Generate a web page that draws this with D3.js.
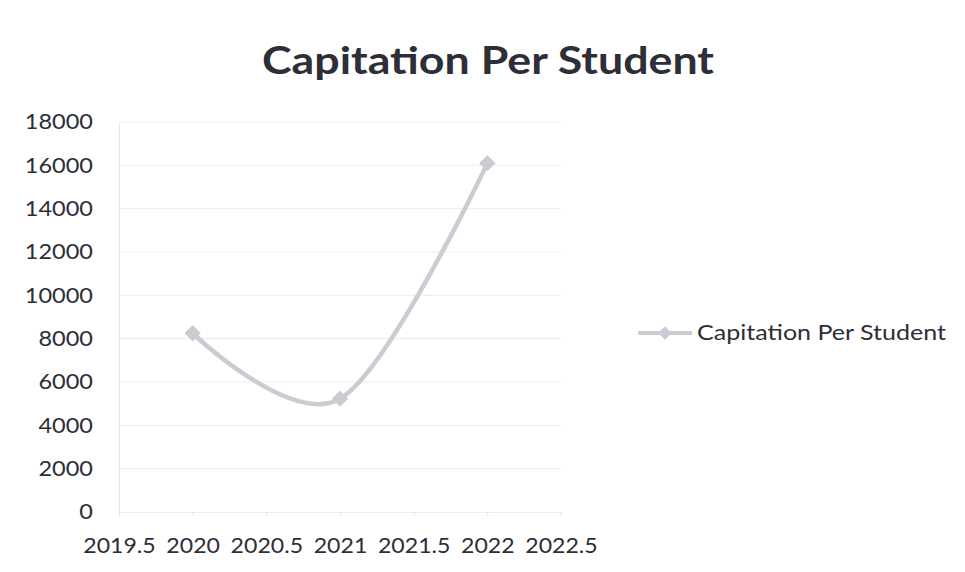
<!DOCTYPE html>
<html>
<head>
<meta charset="utf-8">
<script src="https://cdn.jsdelivr.net/npm/d3@7"></script>
<style>
  body { margin: 0; background: #fff; }
  text { font-family: Lato, "Open Sans", sans-serif; fill: #2e2e38; }
</style>
</head>
<body>
<div id="chart"></div>
<script>
var years = [2020, 2021, 2022];
var capitation = [8250, 5230, 16100];
var xTicks = [2019.5, 2020, 2020.5, 2021, 2021.5, 2022, 2022.5];
var yTicks = [0, 2000, 4000, 6000, 8000, 10000, 12000, 14000, 16000, 18000];
var seriesName = "Capitation Per Student";

var width = 965, height = 572;
var margin = { top: 122, right: 404, bottom: 60, left: 119 };

// the scanned chart is a bit wider than normal glyphs, so stretch text sideways
function stretch(sel, k) {
    sel.each(function () {
        var w = this.getComputedTextLength();
        d3.select(this)
            .attr("textLength", w * k)
            .attr("lengthAdjust", "spacingAndGlyphs");
    });
}

var svg = d3.select("#chart").append("svg")
    .attr("width", width)
    .attr("height", height);

var x = d3.scaleLinear().domain([2019.5, 2022.5]).range([margin.left, width - margin.right]);
var y = d3.scaleLinear().domain([0, 18000]).range([height - margin.bottom, margin.top]);

// title
var title = svg.append("text")
    .attr("x", 488)
    .attr("y", 74)
    .attr("text-anchor", "middle")
    .style("font-size", "38px")
    .style("font-weight", "bold")
    .text(seriesName);
title.attr("textLength", 452).attr("lengthAdjust", "spacingAndGlyphs");

// gridlines
svg.append("g")
    .selectAll("line")
    .data(yTicks.slice(1))
    .enter().append("line")
    .attr("x1", x(2019.5))
    .attr("x2", x(2022.5))
    .attr("y1", function (d) { return y(d); })
    .attr("y2", function (d) { return y(d); })
    .attr("stroke", "#ededed")
    .attr("stroke-width", 1);

// y axis
var yAxis = d3.axisLeft(y).tickValues(yTicks).tickSize(0).tickPadding(26).tickFormat(d3.format("d"));
var gy = svg.append("g")
    .attr("transform", "translate(" + margin.left + ",0)")
    .call(yAxis);
gy.select(".domain").attr("stroke", "#e6e6e6");
gy.selectAll("text").style("font-size", "21px");
stretch(gy.selectAll("text"), 1.12);

// x axis
var xAxis = d3.axisBottom(x).tickValues(xTicks).tickSize(4).tickPadding(22).tickFormat(function (d) { return String(d); });
var gx = svg.append("g")
    .attr("transform", "translate(0," + (height - margin.bottom) + ")")
    .call(xAxis);
gx.select(".domain").attr("stroke", "#ededed");
gx.selectAll(".tick line").attr("stroke", "#e2e2e2");
gx.selectAll("text").style("font-size", "21px");
stretch(gx.selectAll("text"), 1.1);

var lineColor = "#cbcbd3";

var line = d3.line()
    .x(function (d, i) { return x(years[i]); })
    .y(function (d) { return y(d); })
    .curve(d3.curveCardinal.tension(0));

svg.append("path")
    .datum(capitation)
    .attr("d", line)
    .attr("fill", "none")
    .attr("stroke", lineColor)
    .attr("stroke-width", 4.5);

var diamond = d3.symbol().type(d3.symbolDiamond2).size(170);

svg.selectAll(".marker")
    .data(capitation)
    .enter().append("path")
    .attr("class", "marker")
    .attr("d", diamond)
    .attr("transform", function (d, i) { return "translate(" + x(years[i]) + "," + y(d) + ")"; })
    .attr("fill", lineColor);

// legend
var legend = svg.append("g").attr("transform", "translate(638,333)");
legend.append("line")
    .attr("x1", 0).attr("x2", 54)
    .attr("stroke", lineColor)
    .attr("stroke-width", 4);
legend.append("path")
    .attr("d", d3.symbol().type(d3.symbolDiamond2).size(120))
    .attr("transform", "translate(27,0)")
    .attr("fill", lineColor);
var legendText = legend.append("text")
    .attr("x", 59)
    .attr("y", 7)
    .style("font-size", "21px")
    .text(seriesName);
legendText.attr("textLength", 249).attr("lengthAdjust", "spacingAndGlyphs");
</script>
</body>
</html>
